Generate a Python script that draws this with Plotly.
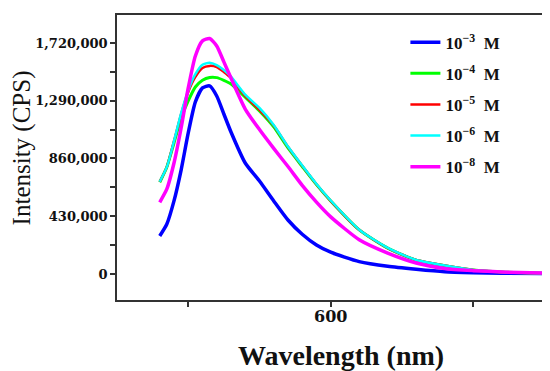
import plotly.graph_objects as go

wavelength = [480, 485, 490, 495, 500, 505, 510, 515, 520, 525, 530, 540, 550, 560,
              570, 580, 590, 600, 620, 640, 660, 680, 700, 720, 750]

int_1e3 = [283e3, 372e3, 544e3, 774e3, 1050e3, 1281e3, 1385e3, 1400e3, 1325e3, 1191e3,
           1057e3, 826e3, 692e3, 544e3, 402e3, 296e3, 216e3, 162e3, 92e3, 57e3, 35e3,
           17e3, 10e3, 6e3, 3e3]
int_1e4 = [683e3, 797e3, 975e3, 1160e3, 1289e3, 1392e3, 1442e3, 1463e3, 1462e3, 1442e3,
           1415e3, 1316e3, 1214e3, 1095e3, 938e3, 800e3, 665e3, 543e3, 328e3, 192e3,
           103e3, 62e3, 30e3, 15e3, 5e3]
int_1e5 = [687e3, 797e3, 989e3, 1190e3, 1355e3, 1467e3, 1534e3, 1549e3, 1541e3, 1504e3,
           1459e3, 1325e3, 1221e3, 1105e3, 947e3, 805e3, 668e3, 545e3, 329e3, 193e3,
           104e3, 63e3, 30e3, 15e3, 5e3]
int_1e6 = [687e3, 797e3, 989e3, 1196e3, 1366e3, 1487e3, 1557e3, 1573e3, 1555e3, 1518e3,
           1469e3, 1335e3, 1236e3, 1109e3, 949e3, 807e3, 670e3, 547e3, 330e3, 194e3,
           104e3, 63e3, 30e3, 15e3, 5e3]
int_1e8 = [534e3, 633e3, 826e3, 1087e3, 1385e3, 1623e3, 1735e3, 1753e3, 1698e3, 1579e3,
           1459e3, 1228e3, 1075e3, 935e3, 800e3, 660e3, 535e3, 425e3, 255e3, 156e3,
           82e3, 41e3, 25e3, 15e3, 7e3]

series = [
    ("10<sup>\u22123</sup>\u00a0\u00a0M", int_1e3, "#0000FF", 3.5),
    ("10<sup>\u22124</sup>\u00a0\u00a0M", int_1e4, "#00FF00", 3),
    ("10<sup>\u22125</sup>\u00a0\u00a0M", int_1e5, "#FF0000", 2.5),
    ("10<sup>\u22126</sup>\u00a0\u00a0M", int_1e6, "#00FFFF", 2.5),
    ("10<sup>\u22128</sup>\u00a0\u00a0M", int_1e8, "#FF00FF", 3.5),
]

x_tickvals = [500, 600, 700]
x_ticktext = ["", "600", ""]
x_title = "Wavelength (nm)"
y_title = "Intensity (CPS)"

fig = go.Figure()
for i, (name, vals, color, w) in enumerate(series):
    fig.add_trace(go.Scatter(x=wavelength, y=vals, mode="lines", name=name,
                             legendgroup=str(i),
                             line=dict(color=color, width=w, shape="spline", smoothing=0.6)))

axis_col = "#333333"
# page body has an 8px default margin, so the figure is 8px smaller and shifted
fig.update_layout(
    width=542, height=363,
    margin=dict(l=109, r=7, t=7, b=71, autoexpand=False),
    plot_bgcolor="white", paper_bgcolor="white",
    showlegend=True,
    legend=dict(x=0.677, y=0.966, xanchor="left", yanchor="top",
                bgcolor="rgba(0,0,0,0)", tracegroupgap=6,
                font=dict(family="Liberation Serif", size=17, color="#111111", weight="bold")),
    xaxis=dict(range=[450, 749], tickmode="array", tickvals=x_tickvals, ticktext=x_ticktext,
               automargin=False, ticklabelstandoff=-4,
               showgrid=False, zeroline=False, showline=True, mirror=True,
               linecolor=axis_col, linewidth=1.5, ticks="outside", ticklen=5,
               tickcolor=axis_col, tickwidth=1.5,
               tickfont=dict(family="DejaVu Serif", size=16, color="#111111", weight="bold")),
    yaxis=dict(range=[-193600, 1928000], tickmode="linear", tick0=0, dtick=430000,
               tickformat=",d", automargin=False,
               showgrid=False, zeroline=False, showline=True, mirror=True,
               linecolor=axis_col, linewidth=1.5, ticks="outside", ticklen=5,
               tickcolor=axis_col, tickwidth=1.5,
               minor=dict(ticks="outside", dtick=215000, tick0=0, ticklen=5,
                          tickcolor=axis_col, tickwidth=1.5),
               tickfont=dict(family="DejaVu Serif", size=13, color="#111111", weight="bold")),
    annotations=[
        dict(text="<b>" + x_title + "</b>", xref="paper", yref="paper",
             x=0.526, y=-0.193, xanchor="center", yanchor="middle", showarrow=False,
             font=dict(family="Liberation Serif", size=28, color="#111111")),
        dict(text=y_title, xref="paper", yref="paper", textangle=-90,
             x=-0.223, y=0.532, xanchor="center", yanchor="middle", showarrow=False,
             font=dict(family="Liberation Serif", size=25, color="#111111")),
    ],
)

fig.write_html("out.html")
